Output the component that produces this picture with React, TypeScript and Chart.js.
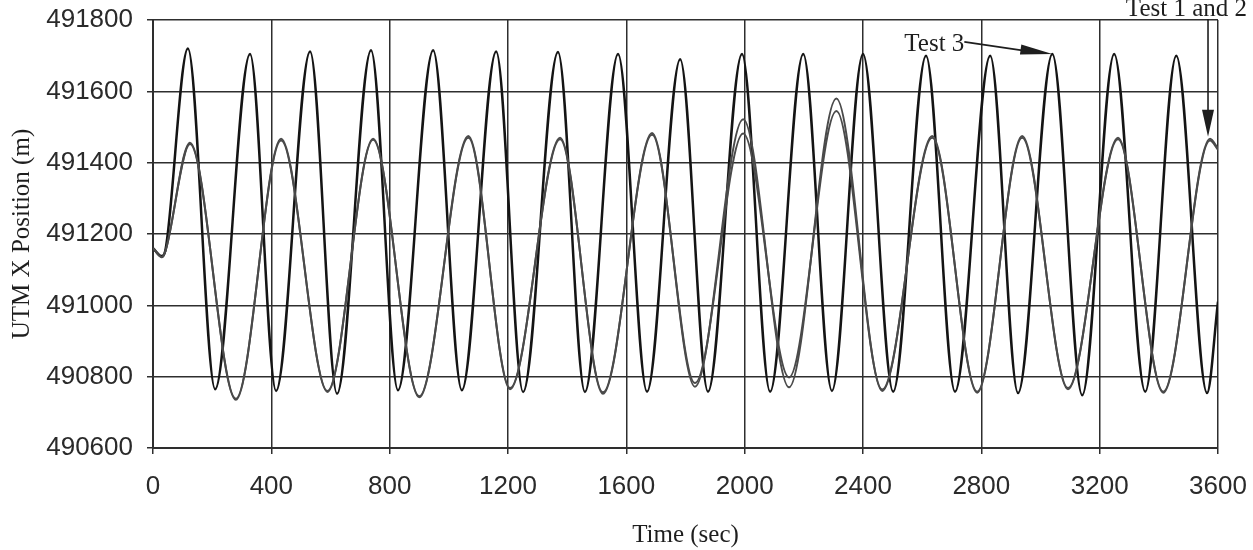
import React, { useEffect, useRef } from "react";
import { Chart, registerables } from "chart.js";

Chart.register(...registerables);

// ---- data ----
const xTickValues = [0, 400, 800, 1200, 1600, 2000, 2400, 2800, 3200, 3600];
const yTickValues = [490600, 490800, 491000, 491200, 491400, 491600, 491800];

// Test 3 : larger amplitude, ~210 s period (peaks / troughs)
const test3Times = [
  0, 30, 42, 118, 210, 328, 416, 531, 622, 737, 828, 947, 1044, 1160, 1251, 1369,
  1460, 1572, 1670, 1782, 1876, 1991, 2086, 2198, 2295, 2400, 2502, 2613, 2711,
  2830, 2924, 3040, 3141, 3249, 3354, 3459, 3563, 3600,
];
const test3Values = [
  491160, 491138, 491155, 491720, 490765, 491705, 490760, 491712, 490752, 491715,
  490762, 491715, 490762, 491712, 490757, 491710, 490757, 491705, 490758, 491690,
  490758, 491705, 490758, 491705, 490760, 491705, 490758, 491700, 490758, 491700,
  490754, 491705, 490748, 491705, 490758, 491700, 490754, 491010,
];

// Test 1 and Test 2 : smaller amplitude, ~310 s period
const test12Times = [
  0, 30, 42, 125, 280, 433, 590, 744, 900, 1066, 1207, 1376, 1521, 1687, 1832,
  1995, 2150, 2310, 2465, 2634, 2786, 2938, 3093, 3262, 3415, 3573, 3600,
];
const test1Values = [
  491160, 491135, 491152, 491456, 490735, 491467, 490757, 491467, 490742, 491475,
  490765, 491470, 490752, 491483, 490772, 491522, 490770, 491580, 490760, 491475,
  490755, 491475, 490765, 491470, 490755, 491467, 491440,
];
const test2Values = [
  491160, 491135, 491152, 491452, 490738, 491462, 490760, 491464, 490745, 491470,
  490768, 491466, 490756, 491478, 490782, 491482, 490798, 491545, 490764, 491470,
  490758, 491470, 490768, 491466, 490758, 491462, 491436,
];

// annotation anchors (the peaks the arrows point at)
const test3Label = { text: "Test 3", t: 3040, v: 491705 };
const test12Label = { text: "Test 1 and 2", t: 3573, v: 491467 };

const toPoints = (xs: number[], ys: number[]) => xs.map((x, i) => ({ x, y: ys[i] }));

function arrowHead(ctx: CanvasRenderingContext2D, x0: number, y0: number, x1: number, y1: number, len: number, half: number) {
  const a = Math.atan2(y1 - y0, x1 - x0);
  const bx = x1 - Math.cos(a) * len;
  const by = y1 - Math.sin(a) * len;
  ctx.beginPath();
  ctx.moveTo(x1, y1);
  ctx.lineTo(bx + Math.sin(a) * half, by - Math.cos(a) * half);
  ctx.lineTo(bx - Math.sin(a) * half, by + Math.cos(a) * half);
  ctx.closePath();
  ctx.fill();
}

const annotationPlugin = {
  id: "testAnnotations",
  afterDraw(chart: any) {
    const { ctx, scales } = chart;
    const xs = scales.x;
    const ys = scales.y;
    ctx.save();
    ctx.fillStyle = "#1e1e1e";
    ctx.strokeStyle = "#1e1e1e";
    ctx.lineWidth = 1.6;
    ctx.font = '25px "Liberation Serif", "Times New Roman", serif';
    ctx.textBaseline = "alphabetic";

    // Test 3
    const p3x = xs.getPixelForValue(test3Label.t);
    const p3y = ys.getPixelForValue(test3Label.v);
    ctx.textAlign = "right";
    ctx.fillText(test3Label.text, p3x - 88, p3y - 3);
    const sx = p3x - 88;
    const sy = p3y - 12;
    ctx.beginPath();
    ctx.moveTo(sx, sy);
    ctx.lineTo(p3x - 20, p3y - 2);
    ctx.stroke();
    arrowHead(ctx, sx, sy, p3x, p3y, 32, 5);

    // Test 1 and 2
    const p12x = xs.getPixelForValue(test12Label.t) - 2;
    const p12y = ys.getPixelForValue(test12Label.v) - 2;
    ctx.textAlign = "right";
    ctx.fillText(test12Label.text, p12x + 39, 16);
    ctx.beginPath();
    ctx.moveTo(p12x, 19);
    ctx.lineTo(p12x, p12y - 20);
    ctx.stroke();
    arrowHead(ctx, p12x, 19, p12x, p12y, 27, 6);
    ctx.restore();
  },
};

const zeroPadding = (s: any) => {
  s.paddingTop = 0;
  s.paddingBottom = 0;
  s.paddingLeft = 0;
  s.paddingRight = 0;
};

export default function App() {
  const canvasRef = useRef<HTMLCanvasElement | null>(null);

  useEffect(() => {
    if (!canvasRef.current) return;
    const gridColor = "#2e2e2e";
    const tickFont = { family: '"Liberation Sans", Arial, sans-serif', size: 26 };
    const titleFont = { family: '"Liberation Serif", "Times New Roman", serif', size: 25 };
    const chart = new Chart(canvasRef.current, {
      type: "line",
      data: {
        datasets: [
          {
            label: "Test 1",
            data: toPoints(test12Times, test1Values),
            borderColor: "#4a4a4a",
            borderWidth: 2,
            pointRadius: 0,
            cubicInterpolationMode: "monotone",
            fill: false,
          },
          {
            label: "Test 2",
            data: toPoints(test12Times, test2Values),
            borderColor: "#4a4a4a",
            borderWidth: 2,
            pointRadius: 0,
            cubicInterpolationMode: "monotone",
            fill: false,
          },
          {
            label: "Test 3",
            data: toPoints(test3Times, test3Values),
            borderColor: "#141414",
            borderWidth: 2.5,
            pointRadius: 0,
            cubicInterpolationMode: "monotone",
            fill: false,
          },
        ],
      },
      options: {
        animation: false,
        responsive: true,
        maintainAspectRatio: false,
        layout: { padding: { top: 20, right: 35, bottom: 0, left: 0 } },
        plugins: {
          legend: { display: false },
          tooltip: { enabled: false },
        },
        scales: {
          x: {
            type: "linear",
            min: 0,
            max: 3600,
            afterBuildTicks: (s: any) => {
              s.ticks = xTickValues.map((v) => ({ value: v }));
            },
            afterFit: (s: any) => {
              s.height = 102;
              zeroPadding(s);
            },
            ticks: {
              color: "#2a2a2a",
              font: tickFont,
              padding: 17,
              maxRotation: 0,
              autoSkip: false,
              callback: (v: any) => String(v),
            },
            grid: { color: gridColor, lineWidth: 1.5, tickLength: 6 },
            border: { color: gridColor, width: 2 },
            title: {
              display: true,
              text: "Time (sec)",
              color: "#1e1e1e",
              font: titleFont,
              padding: { top: 0, bottom: 0 },
            },
          },
          y: {
            type: "linear",
            min: 490600,
            max: 491800,
            afterBuildTicks: (s: any) => {
              s.ticks = yTickValues.map((v) => ({ value: v }));
            },
            afterFit: (s: any) => {
              s.width = 153;
              zeroPadding(s);
            },
            ticks: {
              color: "#2a2a2a",
              font: tickFont,
              padding: 14,
              autoSkip: false,
              callback: (v: any) => String(v),
            },
            grid: { color: gridColor, lineWidth: 1.5, tickLength: 6 },
            border: { color: gridColor, width: 2 },
            title: {
              display: true,
              text: "UTM X Position (m)",
              color: "#1e1e1e",
              font: titleFont,
              padding: { top: 7, bottom: 0 },
            },
          },
        },
      },
      plugins: [annotationPlugin],
    } as any);
    return () => chart.destroy();
  }, []);

  return (
    <div style={{ position: "absolute", left: 0, top: 0, width: 1253, height: 550, background: "#fff" }}>
      <canvas ref={canvasRef} />
    </div>
  );
}
